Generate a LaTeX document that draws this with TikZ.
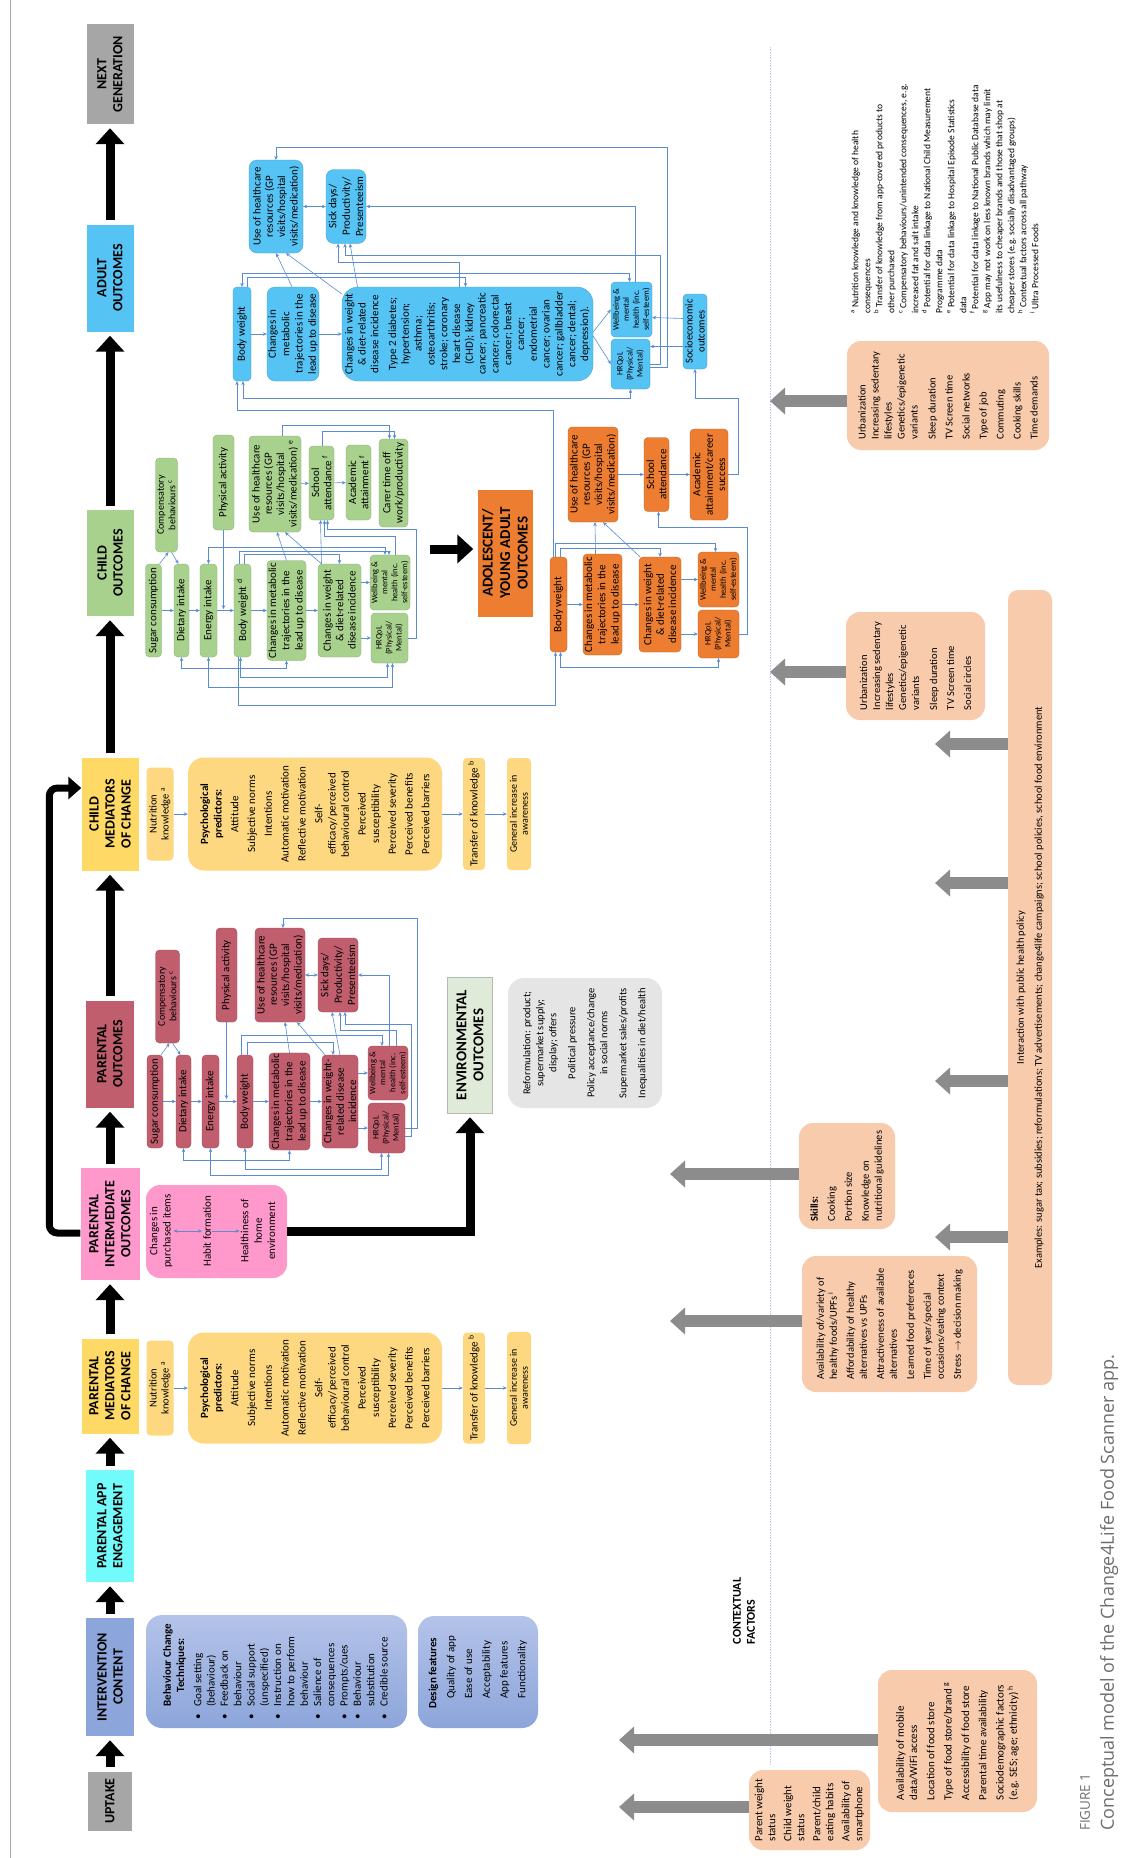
\documentclass[tikz,border=0pt]{standalone}
\usepackage{fontspec}
\setmainfont{Carlito}
\newfontfamily\capfont{Open Sans}
\usetikzlibrary{arrows.meta}

\definecolor{conBlue}{RGB}{91,140,210}
\definecolor{hdrGray}{RGB}{166,166,166}
\definecolor{intBlue}{RGB}{140,165,218}
\definecolor{intLight}{RGB}{180,195,233}
\definecolor{appCyan}{RGB}{115,250,250}
\definecolor{medYel}{RGB}{255,217,102}
\definecolor{medBox}{RGB}{253,216,128}
\definecolor{intPink}{RGB}{255,153,204}
\definecolor{paRose}{RGB}{192,94,110}
\definecolor{chGreen}{RGB}{169,209,142}
\definecolor{yoOrange}{RGB}{237,125,49}
\definecolor{adBlue}{RGB}{86,195,245}
\definecolor{ctxPeach}{RGB}{248,203,173}
\definecolor{envGreen}{RGB}{224,234,217}
\definecolor{envGray}{RGB}{229,229,229}
\definecolor{capGray}{RGB}{110,110,110}
\definecolor{sepBlue}{RGB}{190,205,235}

\tikzset{
  lbl/.style={rotate=90, align=center, inner sep=1pt, text=black,
    font=\fontsize{11}{13.3}\selectfont},
  sz/.style 2 args={minimum height=#1, minimum width=#2},
  tight/.style={font=\fontsize{11}{12.3}\selectfont},
  smalltxt/.style={font=\fontsize{8.5}{10}\selectfont},
  hdr/.style={lbl, fill=#1, inner sep=2pt, font=\fontsize{14}{16}\selectfont\bfseries},
  medbox/.style={lbl, fill=medBox, rounded corners=4},
  obox/.style={lbl, fill=#1, draw=#1!80!black, line width=0.3pt, rounded corners=4},
  ctxbox/.style={lbl, align=left, fill=ctxPeach, rounded corners=14,
    font=\fontsize{10.5}{13}\selectfont},
  con/.style={draw=conBlue, line width=0.6pt, >={Stealth[length=4pt,width=3.5pt]}, ->},
  con2/.style={con, <->},
  bigarrow/.style={line width=9pt, -{Triangle[length=16pt,width=28pt]},
    shorten <=4pt, shorten >=4pt},
  bigline/.style={line width=7pt, rounded corners=8pt, -{Triangle[length=13pt,width=22pt]}},
  garrow/.style={line width=12pt, draw=black!45, -{Triangle[length=15pt,width=26pt]}}
}

\newcommand{\psyitems}{\textbf{Psychological}\\\textbf{predictors:}\\[3.5pt]Attitude\\[3.5pt]Subjective norms\\[3.5pt]Intentions\\[3.5pt]Automatic motivation\\[3.5pt]Reflective motivation\\[3.5pt]Self-\\efficacy/perceived\\behavioural control\\[3.5pt]Perceived\\susceptibility\\[3.5pt]Perceived severity\\[3.5pt]Perceived benefits\\[3.5pt]Perceived barriers}

\begin{document}
\begin{tikzpicture}[x=1pt, y=-1pt]
  \fill[white] (0,0) rectangle (1145,1858);
  \useasboundingbox (0,0) rectangle (1145,1858);
  \draw[black!35, line width=0.8pt] (10,0) -- (10,1858);
  \draw[sepBlue, line width=0.6pt, densely dotted] (770,47) -- (770,1765);

  % stage headers
  \node[hdr=hdrGray, sz={44}{59}] (hUptake) at (110,1801) {UPTAKE};
  \node[hdr=intBlue, sz={48}{118}] (hInterv) at (110,1677) {INTERVENTION\\CONTENT};
  \node[hdr=appCyan, sz={48}{112}] (hApp) at (110,1526) {PARENTAL APP\\ENGAGEMENT};
  \node[hdr=medYel, sz={57}{95}] (hPaMed) at (110,1386) {PARENTAL\\MEDIATORS\\OF CHANGE};
  \node[hdr=intPink, sz={59}{112}] (hPaInt) at (110,1224) {PARENTAL\\INTERMEDIATE\\OUTCOMES};
  \node[hdr=paRose, sz={48}{107}] (hPaOut) at (110,1054) {PARENTAL\\OUTCOMES};
  \node[hdr=medYel, sz={57}{113}] (hChMed) at (110,814) {CHILD\\MEDIATORS\\OF CHANGE};
  \node[hdr=chGreen, sz={47}{106}] (hChOut) at (110,563) {CHILD\\OUTCOMES};
  \node[hdr=adBlue, sz={47}{107}] (hAdOut) at (110,278) {ADULT\\OUTCOMES};
  \node[hdr=hdrGray, sz={47}{100}] (hNext) at (110,74) {NEXT\\GENERATION};

  \draw[bigarrow] (hUptake) -- (hInterv);
  \draw[bigarrow] (hInterv) -- (hApp);
  \draw[bigarrow] (hApp) -- (hPaMed);
  \draw[bigarrow] (hPaMed) -- (hPaInt);
  \draw[bigarrow] (hPaInt) -- (hPaOut);
  \draw[bigarrow] (hPaOut) -- (hChMed);
  \draw[bigarrow] (hChMed) -- (hChOut);
  \draw[bigarrow] (hChOut) -- (hAdOut);
  \draw[bigarrow] (hAdOut) -- (hNext);
  \draw[bigline] ([yshift=-9]hPaInt.north) -- ++(-31,0) |- ([yshift=26]hChMed.north);

  % intervention content
  \node[lbl, rounded corners=16, top color=intLight, bottom color=intBlue, sz={261}{113}] (bct) at (276.5,1671.5)
    {\begin{tabular}{@{}l@{\hspace{7pt}}l@{}}
      & \textbf{Behaviour Change}\\
      & \multicolumn{1}{c}{\textbf{Techniques:}}\\[4pt]
      \textbullet & Goal setting\\
      & (behaviour)\\
      \textbullet & Feedback on\\
      & behaviour\\
      \textbullet & Social support\\
      & (unspecified)\\
      \textbullet & Instruction on\\
      & how to perform\\
      & behaviour\\
      \textbullet & Salience of\\
      & consequences\\
      \textbullet & Prompts/cues\\
      \textbullet & Behaviour\\
      & substitution\\
      \textbullet & Credible source
    \end{tabular}};
  \node[lbl, align=left, rounded corners=16, top color=intLight, bottom color=intBlue, sz={120}{112}] (dsg) at (478,1672)
    {\textbf{Design features}\\[4.5pt]\hspace*{10pt}Quality of app\\[4.5pt]\hspace*{10pt}Ease of use\\[4.5pt]\hspace*{10pt}Acceptability\\[4.5pt]\hspace*{10pt}App features\\[4.5pt]\hspace*{10pt}Functionality};

  % parental mediators
  \node[medbox, sz={27}{95}, font=\fontsize{10.5}{12}\selectfont] (paNut) at (160,1388) {Nutrition\\knowledge \textsuperscript{a}};
  \node[medbox, rounded corners=16, sz={254}{111}] (paPsy) at (315,1388) {\psyitems};
  \node[medbox, sz={22}{111}] (paTra) at (474,1388) {Transfer of knowledge \textsuperscript{b}};
  \node[medbox, sz={24}{112}, font=\fontsize{10}{11}\selectfont] (paGen) at (519,1388) {General increase in\\awareness};
  \draw[con] (paNut) -- (paPsy);
  \draw[con] (paPsy) -- (paTra);
  \draw[con] (paTra) -- (paGen);

  % parental intermediate outcomes
  \node[lbl, fill=intPink, rounded corners=14, sz={141}{93}] (paHome) at (216.5,1231.5) {};
  \node[lbl] (paPur) at (161,1231) {Changes in\\purchased items};
  \node[lbl] (paHab) at (207,1231) {Habit formation};
  \node[lbl] (paHlt) at (258,1231) {Healthiness of\\home\\environment};
  \draw[con2] (paPur) -- (paHab);
  \draw[con] (paHab) -- (paHlt);

  % environmental outcomes
  \node[hdr=envGreen, draw=envGreen!80!black, sz={45}{136}, font=\fontsize{15}{17}\selectfont\bfseries] (hEnv) at (470,1045) {ENVIRONMENTAL\\OUTCOMES};
  \node[lbl, fill=envGray, rounded corners=16, sz={154}{130}, font=\fontsize{10.5}{13}\selectfont] (envList) at (585,1043)
    {Reformulation: product;\\supermarket supply;\\display; offers\\[6pt]Political pressure\\[6pt]Policy acceptance/change\\in social norms\\[6pt]Supermarket sales/profits\\[6pt]Inequalities in diet/health};
  \draw[bigarrow, shorten <=0pt] (paHome.south) -| (hEnv.west);

  % parental outcomes
  \node[obox=paRose, sz={24}{93}, font=\fontsize{10}{11.5}\selectfont] (paComp) at (167.5,996.5) {Compensatory\\behaviours \textsuperscript{c}};
  \node[obox=paRose, sz={16}{93}] (paSug) at (155,1101.5) {Sugar consumption};
  \node[obox=paRose, sz={15}{93}] (paDie) at (183.5,1101.5) {Dietary intake};
  \node[obox=paRose, sz={17}{93}] (paEne) at (210.5,1101.5) {Energy intake};
  \node[obox=paRose, sz={21}{94}] (paPhy) at (226.5,975) {Physical activity};
  \node[obox=paRose, sz={16}{93}] (paBod) at (245,1101.5) {Body weight};
  \node[obox=paRose, sz={41}{96}] (paMet) at (289.5,1101.5) {Changes in metabolic\\trajectories in the\\lead up to disease};
  \node[obox=paRose, tight, sz={50}{94}] (paUse) at (280,975) {Use of healthcare\\resources (GP\\visits/hospital\\visits/medication)};
  \node[obox=paRose, sz={40}{74}] (paSick) at (338,975) {Sick days/\\Productivity/\\Presenteeism};
  \node[obox=paRose, tight, sz={36}{93}] (paChg) at (340,1101.5) {Changes in weight-\\related disease\\incidence};
  \node[obox=paRose, smalltxt, sz={40}{54}] (paWel) at (388,1073) {Wellbeing \&\\mental\\health (inc.\\self-esteem)};
  \node[obox=paRose, smalltxt, sz={37}{50}] (paHrq) at (386.5,1128) {HRQoL\\(Physical/\\Mental)};

  \draw[con] (paSug) -- (paDie);
  \draw[con] (paDie) -- (paEne);
  \draw[con] (paEne) -- (paBod);
  \draw[con] (paBod) -- (paMet);
  \draw[con] (paMet) -- (paChg);
  \draw[con] ([xshift=6]paSug.east) -- ([xshift=2]paComp.west);
  \draw[con] ([xshift=5]paComp.west) -- ([xshift=-3]paDie.east);
  \draw[con] (paPhy.west) -- ++(0,77);
  \draw[con] (paChg.south |- paWel) -- (paWel.north);
  \draw[con] (paChg.south |- paHrq) -- (paHrq.north);
  \draw[con] (paMet.east) -- ([xshift=5]paUse.west);
  \draw[con] ([xshift=-15]paChg.east) -- ([xshift=17]paUse.west);
  \draw[con] (paChg.east) -- ([xshift=-6]paSick.west);
  \draw[con2] (paUse) -- (paSick);
  \draw[con] ([xshift=-4]paBod.east) -- ++(0,-20) -| ([xshift=-6]paWel.east);
  \draw[con] ([xshift=2]paBod.east) -- ++(0,-13) -| ([xshift=-7]paChg.east);
  \draw[con2] (paDie.west) -- ++(0,12) -| (paMet.west);
  \draw[con2] (paBod.west) -- ++(0,21) -| ([xshift=-5]paHrq.west);
  \draw[con2] (paEne.west) -- ++(0,27) -| ([xshift=2]paHrq.west);
  \draw[con] (paHrq.south) -| (417,918) -| ([xshift=3]paUse.east);
  \draw[con] ([xshift=1]paWel.east) |- (paSick.south);
  \draw[con] ([xshift=8]paWel.east) -- ++(0,-16) -| ([xshift=2]paSick.west);
  \draw[con] ([yshift=-8]paHrq.south) -| (411,1024) -| ([xshift=7]paSick.west);

  % child mediators
  \node[medbox, sz={27}{93}, font=\fontsize{10.5}{12}\selectfont] (chNut) at (160,814) {Nutrition\\knowledge \textsuperscript{a}};
  \node[medbox, rounded corners=16, sz={254}{113}] (chPsy) at (315,814) {\psyitems};
  \node[medbox, sz={22}{112}] (chTra) at (474,814) {Transfer of knowledge \textsuperscript{b}};
  \node[medbox, sz={24}{112}, font=\fontsize{10}{11}\selectfont] (chGen) at (519,814) {General increase in\\awareness};
  \draw[con] (chNut) -- (chPsy);
  \draw[con] (chPsy) -- (chTra);
  \draw[con] (chTra) -- (chGen);

  % child outcomes
  \node[obox=chGreen, sz={22}{94}, font=\fontsize{10}{11.5}\selectfont] (chComp) at (166.5,505) {Compensatory\\behaviours \textsuperscript{c}};
  \node[obox=chGreen, sz={16}{93}] (chSug) at (153.5,610.5) {Sugar consumption};
  \node[obox=chGreen, sz={15}{93}] (chDie) at (181.5,610.5) {Dietary intake};
  \node[obox=chGreen, sz={17}{93}] (chEne) at (208.5,610.5) {Energy intake};
  \node[obox=chGreen, sz={21}{95}] (chPhy) at (223.5,482.5) {Physical activity};
  \node[obox=chGreen, sz={17}{93}] (chBod) at (242.5,610.5) {Body weight \textsuperscript{d}};
  \node[obox=chGreen, sz={39}{100}] (chMet) at (286.5,610.5) {Changes in metabolic\\trajectories in the\\lead up to disease};
  \node[obox=chGreen, tight, sz={52}{96}] (chUse) at (275,484) {Use of healthcare\\resources (GP\\visits/hospital\\visits/medication) \textsuperscript{e}};
  \node[obox=chGreen, tight, sz={25}{74}] (chSch) at (321.5,483) {School\\attendance \textsuperscript{f}};
  \node[obox=chGreen, tight, sz={25}{75}] (chAca) at (358.5,482.5) {Academic\\attainment \textsuperscript{f}};
  \node[obox=chGreen, tight, sz={29}{88}] (chCar) at (393.5,483) {Carer time off\\work/productivity};
  \node[obox=chGreen, tight, sz={43}{93}] (chChg) at (339.5,610.5) {Changes in weight\\\& diet-related\\disease incidence};
  \node[obox=chGreen, smalltxt, sz={40}{55}] (chWel) at (390,582.5) {Wellbeing \&\\mental\\health (inc.\\self-esteem)};
  \node[obox=chGreen, smalltxt, sz={37}{50}] (chHrq) at (389.5,638) {HRQoL\\(Physical/\\Mental)};

  \draw[con] (chSug) -- (chDie);
  \draw[con] (chDie) -- (chEne);
  \draw[con] (chEne) -- (chBod);
  \draw[con] (chBod) -- (chMet);
  \draw[con] (chMet) -- (chChg);
  \draw[con] ([xshift=6]chSug.east) -- ([xshift=2]chComp.west);
  \draw[con] ([xshift=5]chComp.west) -- ([xshift=-3]chDie.east);
  \draw[con] (chPhy.west) -- ++(0,79);
  \draw[con] (chChg.south |- chWel) -- (chWel.north);
  \draw[con] (chChg.south |- chHrq) -- (chHrq.north);
  \draw[con] (chMet.east) -- ([xshift=2]chUse.west);
  \draw[con] ([xshift=-18]chChg.east) -- ([xshift=10]chUse.west);
  \draw[con] ([xshift=-18]chChg.east) -- ([xshift=-1]chSch.west);
  \draw[con] (chUse) -- (chSch);
  \draw[con] (chSch) -- (chAca);
  \draw[con] ([xshift=7]chUse.east) -- ++(0,-11) -| ([xshift=-4]chCar.east);
  \draw[con] ([xshift=1]chSch.east) -- ++(0,-15) -| ([xshift=1]chCar.east);
  \draw[con] (chHrq.south) -| (416,529) -| ([xshift=6]chSch.west);
  \draw[con] ([xshift=5]chWel.east) -- ++(0,-19) -| ([xshift=3]chSch.west);
  \draw[con2] (chEne.east) -- ++(0,-17) -| ([xshift=-5]chWel.east);
  \draw[con] ([xshift=-3]chBod.east) -- ++(0,-13) -| ([xshift=-1]chWel.east);
  \draw[con] ([xshift=2]chBod.east) -- ++(0,-10) -| (chChg.east);
  \draw[con2] (chDie.west) -- ++(0,11) -| (chMet.west);
  \draw[con2] ([xshift=-2]chBod.west) -- ++(0,20) -| ([xshift=-2]chHrq.west);
  \draw[con2] (chEne.west) -- ++(0,30) -| ([xshift=3]chHrq.west);

  % adolescent / young adult outcomes
  \node[hdr=yoOrange, sz={55}{127}, font=\fontsize{15}{17.5}\selectfont\bfseries] (hYoung) at (505,553) {ADOLESCENT/\\YOUNG ADULT\\OUTCOMES};
  \coordinate (youngIn) at (430,549);
  \draw[bigarrow, shorten <=0pt] (youngIn) -- (youngIn -| hYoung.north);

  \node[obox=yoOrange, sz={17}{95}] (yoBod) at (558.5,604.5) {Body weight};
  \node[obox=yoOrange, sz={39}{101}] (yoMet) at (602.5,604.5) {Changes in metabolic\\trajectories in the\\lead up to disease};
  \node[obox=yoOrange, tight, sz={42}{95}] (yoChg) at (660,604.5) {Changes in weight\\\& diet-related\\disease incidence};
  \node[obox=yoOrange, smalltxt, sz={41}{55}] (yoWel) at (718.5,579.5) {Wellbeing \&\\mental\\health (inc.\\self-esteem)};
  \node[obox=yoOrange, smalltxt, sz={41}{48}] (yoHrq) at (718.5,634) {HRQoL\\(Physical/\\Mental)};
  \node[obox=yoOrange, tight, sz={50}{95}] (yoUse) at (593,474.5) {Use of healthcare\\resources (GP\\visits/hospital\\visits/medication)};
  \node[obox=yoOrange, tight, sz={25}{74}] (yoSch) at (656.5,474.5) {School\\attendance};
  \node[obox=yoOrange, tight, sz={38}{91}] (yoAca) at (709,474.5) {Academic\\attainment/career\\success};

  \draw[con] (yoBod) -- (yoMet);
  \draw[con] (yoMet) -- (yoChg);
  \draw[con] (yoChg.south |- yoWel) -- (yoWel.north);
  \draw[con] (yoChg.south |- yoHrq) -- (yoHrq.north);
  \draw[con] ([xshift=-7]yoMet.east) -- ([xshift=2]yoUse.west);
  \draw[con] ([xshift=-20]yoChg.east) -- ([xshift=10]yoUse.west);
  \draw[con] (yoUse) -- (yoSch);
  \draw[con] (yoSch) -- (yoAca);
  \draw[con] ([xshift=-3]yoBod.east) -- ++(0,-14) -| ([xshift=-3]yoWel.east);
  \draw[con] ([xshift=2]yoBod.east) -- ++(0,-9) -| (yoChg.east);
  \draw[con] (yoHrq.south) -| (747,527) -| ([xshift=2]yoSch.west);
  \draw[con2] ([xshift=2]yoBod.west) -- ++(0,15) -| (yoHrq.west);
  \draw[con] ([xshift=-4]chBod.west) -- ++(0,48) -| ([xshift=-3]yoBod.west);

  % adult outcomes
  \node[obox=adBlue, sz={18}{94}] (adBod) at (242,334) {Body weight};
  \node[obox=adBlue, rounded corners=8, sz={52}{94}] (adMet) at (293,334) {Changes in\\metabolic\\trajectories in the\\lead up to disease};
  \node[obox=adBlue, rounded corners=16, sz={251}{94}, font=\fontsize{11}{12.8}\selectfont] (adChg) at (467.5,334)
    {Changes in weight\\\& diet-related\\disease incidence\\[5pt]Type 2 diabetes;\\hypertension;\\asthma;\\osteoarthritis;\\stroke; coronary\\heart disease\\(CHD); kidney\\cancer; pancreatic\\cancer; colorectal\\cancer; breast\\cancer;\\endometrial\\cancer; ovarian\\cancer; gallbladder\\cancer; dental;\\depression).};
  \node[obox=adBlue, smalltxt, sz={41}{55}] (adWel) at (631.5,309.5) {Wellbeing \&\\mental\\health (inc.\\self-esteem)};
  \node[obox=adBlue, smalltxt, sz={39}{50}] (adHrq) at (630.5,364) {HRQoL\\(Physical/\\Mental)};
  \node[obox=adBlue, sz={24}{75}, font=\fontsize{10.5}{12}\selectfont] (adSoc) at (695,331.5) {Socioeconomic\\outcomes};
  \node[obox=adBlue, rounded corners=8, tight, sz={54}{93}] (adUse) at (276,206.5) {Use of healthcare\\resources (GP\\visits/hospital\\visits/medication)};
  \node[obox=adBlue, rounded corners=8, sz={40}{74}] (adSick) at (346,206.5) {Sick days/\\Productivity/\\Presenteeism};

  \draw[con] (adBod) -- (adMet);
  \draw[con] (adMet) -- (adChg);
  \draw[con] ([yshift=2]adChg.south) -- (adWel.north);
  \draw[con] ([yshift=-2]adChg.south) -- (adHrq.north);
  \draw[con] ([xshift=-1]adMet.east) -- (adUse.west);
  \draw[con] ([yshift=40]adChg.north) -- ([xshift=10]adUse.west);
  \draw[con] ([xshift=-110]adChg.east) -- ([xshift=4]adSick.west);
  \draw[con2] (adUse) -- (adSick);
  \draw[con] ([xshift=-8]adChg.east) -- ++(0,-25) -| ([xshift=-8]adSick.west);
  \draw[con] (adHrq.south) -| (660,255) -| ([xshift=-1]adSick.west);
  \draw[con] ([xshift=4]adWel.east) |- (adSick.south);
  \draw[con] ([yshift=-3]adHrq.south) -| (667,147) -| (adUse.east);
  \draw[con2] (adBod.east) -- ++(0,-14) -| ([xshift=-2]adWel.east);
  \draw[con] ([xshift=5]adBod.east) -- ++(0,-10) -| ([xshift=-2]adChg.east);
  \draw[con2] ([xshift=1]adBod.west) -- ++(0,17) -| (adHrq.west);
  \draw[con] ([yshift=13]adSoc.north) -- ([yshift=-8]adWel.south);
  \draw[con] ([yshift=-15]adSoc.north) -- ([yshift=17.5]adHrq.south);
  \draw[con] ([xshift=-5]yoBod.east) -- ++(0,-147) -| ([xshift=-5]adBod.west);
  \draw[con] (yoAca.south) -| (738,398) -| (adSoc.west);

  % contextual factors
  \node[lbl, align=left, font=\fontsize{12}{14}\selectfont\bfseries] (ctxTitle) at (744,1611) {CONTEXTUAL\\FACTORS};
  \node[ctxbox, sz={202}{109}] (ctxA) at (948,395.5)
    {Urbanization\\Increasing sedentary\\lifestyles\\Genetics/epigenetic\\variants\\[5pt]Sleep duration\\[4pt]TV Screen time\\[4pt]Social networks\\[4pt]Type of job\\[4pt]Commuting\\[4pt]Cooking skills\\[4pt]Time demands};
  \node[ctxbox, sz={139}{108}] (ctxB) at (915.5,666)
    {Urbanization\\Increasing sedentary\\lifestyles\\Genetics/epigenetic\\variants\\[5pt]Sleep duration\\[4pt]TV Screen time\\[4pt]Social circles};
  \node[ctxbox, align=center, rounded corners=10, sz={44}{795}, font=\fontsize{10.5}{12}\selectfont] (ctxPol) at (1030,987.5)
    {Interaction with public health policy\\[6pt]Examples: sugar tax; subsidies; reformulations; TV advertisements; change4life campaigns; school policies, school food environment};
  \node[ctxbox, sz={96}{106}] (ctxSk) at (847,1176)
    {\textbf{Skills:}\\[4pt]Cooking\\[4pt]Portion size\\[4pt]Knowledge on\\nutritional guidelines};
  \node[ctxbox, sz={175}{136}] (ctxAv) at (889.5,1324)
    {Availability of/variety of\\healthy foods/UPFs \textsuperscript{i}\\[4pt]Affordability of healthy\\alternatives vs UPFs\\[4pt]Attractiveness of available\\alternatives\\[4pt]Learned food preferences\\[4pt]Time of year/special\\occasions/eating context\\[4pt]Stress $\rightarrow$ decision making};
  \node[ctxbox, sz={159}{142}, font=\fontsize{11}{13.3}\selectfont] (ctxMob) at (957.5,1741)
    {Availability of mobile\\data/WiFi access\\[4pt]Location of food store\\[4pt]Type of food store/brand \textsuperscript{g}\\[4pt]Accessibility of food store\\[4pt]Parental time availability\\[4pt]Sociodemographic factors\\(e.g. SES; age; ethnicity) \textsuperscript{h}};
  \node[ctxbox, sz={121}{80}, font=\fontsize{11}{13}\selectfont] (ctxPar) at (809.5,1810)
    {Parent weight\\status\\[3pt]Child weight\\status\\[3pt]Parent/child\\eating habits\\[3pt]Availability of\\smartphone};

  \coordinate (tipA) at (770,401);
  \coordinate (tipB) at (770,672);
  \coordinate (tipP1) at (935,744);
  \coordinate (tipP2) at (935,883);
  \coordinate (tipP3) at (935,1081);
  \coordinate (tipP4) at (935,1237);
  \coordinate (tipS) at (670,1174);
  \coordinate (tipV) at (670,1321);
  \coordinate (tipM) at (619,1740);
  \coordinate (tipR) at (619,1807);
  \draw[garrow] (ctxA.north |- tipA) -- (tipA);
  \draw[garrow] (ctxB.north |- tipB) -- (tipB);
  \draw[garrow] (ctxPol.north |- tipP1) -- (tipP1);
  \draw[garrow] (ctxPol.north |- tipP2) -- (tipP2);
  \draw[garrow] (ctxPol.north |- tipP3) -- (tipP3);
  \draw[garrow] (ctxPol.north |- tipP4) -- (tipP4);
  \draw[garrow] (ctxSk.north |- tipS) -- (tipS);
  \draw[garrow] (ctxAv.north |- tipV) -- (tipV);
  \draw[garrow] (ctxMob.north |- tipM) -- (tipM);
  \draw[garrow] (ctxPar.north |- tipR) -- (tipR);

  % footnotes and caption
  \node[rotate=90, anchor=north west, align=left, inner sep=0pt, font=\fontsize{9.5}{12}\selectfont] (notes) at (851,314)
    {\textsuperscript{a} Nutrition knowledge and knowledge of health\\
     consequences\\
     \textsuperscript{b} Transfer of knowledge from app-covered products to\\
     other purchased\\
     \textsuperscript{c} Compensatory behaviours/unintended consequences, e.g.\\
     increased fat and salt intake\\
     \textsuperscript{d} Potential for data linkage to National Child Measurement\\
     Programme data\\
     \textsuperscript{e} Potential for data linkage to Hospital Episode Statistics\\
     data\\
     \textsuperscript{f} Potential for data linkage to National Public Database data\\
     \textsuperscript{g} App may not work on less known brands which may limit\\
     its usefulness to cheaper brands and those that shop at\\
     cheaper stores (e.g. socially disadvantaged groups)\\
     \textsuperscript{h} Contextual factors across all pathway\\
     \textsuperscript{i} Ultra Processed Foods};
  \node[rotate=90, anchor=north west, inner sep=0pt, text=capGray, font=\capfont\fontsize{13.5}{15}\selectfont] (figNo) at (1080,1831) {FIGURE 1};
  \node[rotate=90, anchor=north west, inner sep=0pt, text=capGray, font=\capfont\fontsize{18}{21}\selectfont] (figCap) at (1100,1831) {Conceptual model of the Change4Life Food Scanner app.};
\end{tikzpicture}
\end{document}
